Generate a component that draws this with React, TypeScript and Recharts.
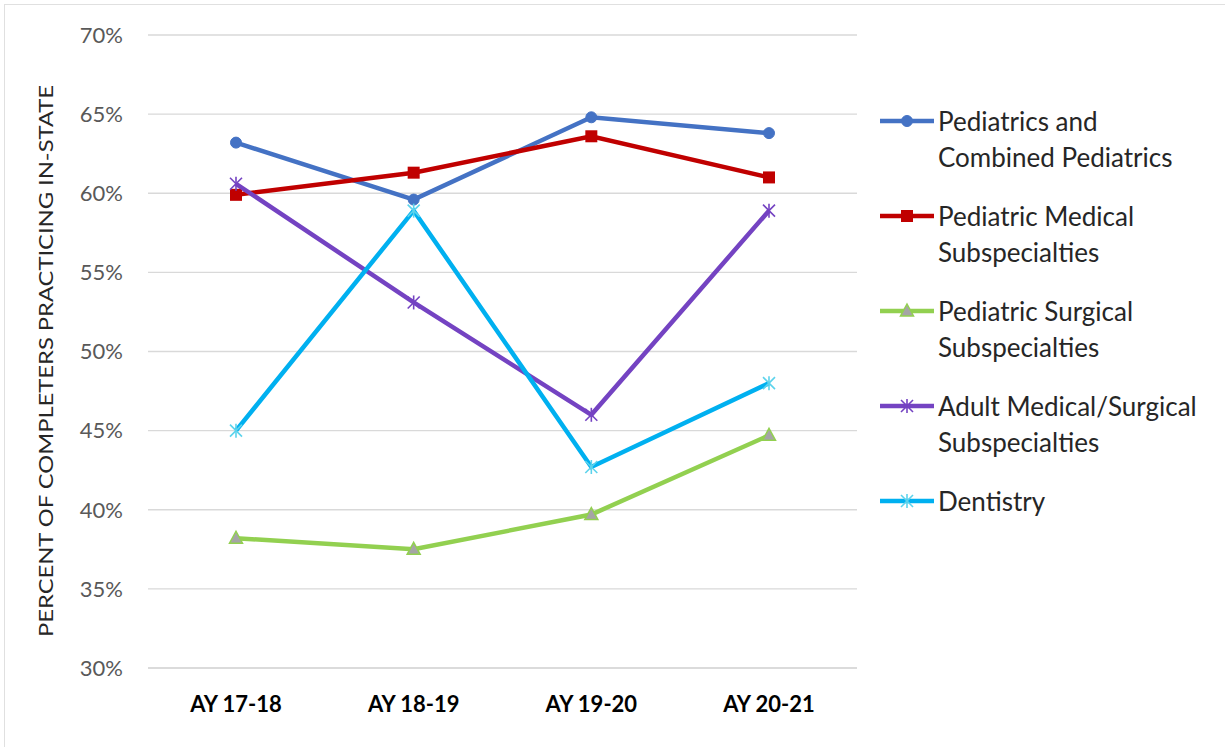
import React from "react";
import { LineChart, Line, XAxis, YAxis, CartesianGrid, Legend } from "recharts";

const years = ["AY 17-18", "AY 18-19", "AY 19-20", "AY 20-21"];
const pediatrics = [63.2, 59.6, 64.8, 63.8];
const pedMedical = [59.9, 61.3, 63.6, 61.0];
const pedSurgical = [38.2, 37.5, 39.7, 44.7];
const adultMedSurg = [60.6, 53.1, 46.0, 58.9];
const dentistry = [45.0, 58.9, 42.7, 48.0];
const yTicks = [30, 35, 40, 45, 50, 55, 60, 65, 70];

const FONT = "Lato, 'Open Sans', sans-serif";
const NARROW = "'Liberation Sans Narrow', Lato, sans-serif";

const seriesList = [
  { key: "ped", name: ["Pediatrics and", "Combined Pediatrics"], color: "#4472C4", marker: "circle", markerColor: "#4472C4" },
  { key: "med", name: ["Pediatric Medical", "Subspecialties"], color: "#C00000", marker: "square", markerColor: "#C00000" },
  { key: "surg", name: ["Pediatric Surgical", "Subspecialties"], color: "#92D050", marker: "triangle", markerColor: "#A5A5A5" },
  { key: "adult", name: ["Adult Medical/Surgical", "Subspecialties"], color: "#7443C2", marker: "star", markerColor: "#7443C2" },
  { key: "dent", name: ["Dentistry"], color: "#00B0F0", marker: "star", markerColor: "#5CD3EC" },
];

const data = years.map((y, i) => ({
  year: y,
  ped: pediatrics[i],
  med: pedMedical[i],
  surg: pedSurgical[i],
  adult: adultMedSurg[i],
  dent: dentistry[i],
}));

const Marker = ({ cx, cy, type, color, stroke }) => {
  if (cx == null || cy == null) return null;
  if (type === "circle") return <circle cx={cx} cy={cy} r={5.5} fill={color} stroke={color} />;
  if (type === "square") return <rect x={cx - 6} y={cy - 6} width={12} height={12} fill={color} />;
  if (type === "triangle")
    return (
      <polygon
        points={`${cx},${cy - 7} ${cx + 6.5},${cy + 5} ${cx - 6.5},${cy + 5}`}
        fill={color}
        stroke={stroke}
        strokeWidth={1.5}
      />
    );
  const r = 6;
  return (
    <g stroke={color} strokeWidth={1.6}>
      <line x1={cx - r} y1={cy - r} x2={cx + r} y2={cy + r} />
      <line x1={cx - r} y1={cy + r} x2={cx + r} y2={cy - r} />
      <line x1={cx} y1={cy - r - 1} x2={cx} y2={cy + r + 1} />
    </g>
  );
};

const makeDot = (s) => (props) => (
  <Marker key={`${s.key}-${props.index}`} cx={props.cx} cy={props.cy} type={s.marker} color={s.markerColor} stroke={s.color} />
);

const LegendContent = () => (
  <div style={{ fontFamily: FONT, fontSize: 26, color: "#262626" }}>
    {seriesList.map((s) => (
      <div key={s.key} style={{ display: "flex", alignItems: "flex-start", height: 95 }}>
        <svg width={58} height={36} style={{ flex: "none" }}>
          <line x1={2} y1={18} x2={56} y2={18} stroke={s.color} strokeWidth={4.5} />
          <Marker cx={29} cy={18} type={s.marker} color={s.markerColor} stroke={s.color} />
        </svg>
        <div style={{ lineHeight: "36px", marginLeft: 2, whiteSpace: "nowrap" }}>
          {s.name.map((n) => (
            <div key={n}>{n}</div>
          ))}
        </div>
      </div>
    ))}
  </div>
);

const YLabel = () => (
  <text
    x={45}
    y={361}
    transform="rotate(-90 45 361)"
    textAnchor="middle"
    dominantBaseline="central"
    fontFamily={NARROW}
    fontSize={20}
    fill="#262626"
    textLength={552}
    lengthAdjust="spacingAndGlyphs"
  >
    PERCENT OF COMPLETERS PRACTICING IN-STATE
  </text>
);

export default function App() {
  return (
    <div style={{ position: "absolute", left: 0, top: 0, width: 1225, height: 747, background: "#fff" }}>
      <div style={{ position: "absolute", left: 4, top: 4, right: 0, height: 1, background: "#e0e0e0" }} />
      <div style={{ position: "absolute", left: 4, top: 4, bottom: 0, width: 1, background: "#e0e0e0" }} />
      <LineChart
        width={1225}
        height={747}
        data={data}
        margin={{ top: 35, right: 368, bottom: 49, left: 0 }}
        style={{ position: "absolute", left: 0, top: 0 }}
      >
        <CartesianGrid vertical={false} stroke="#d9d9d9" strokeWidth={1.3} />
        <XAxis
          dataKey="year"
          height={30}
          padding={{ left: 88, right: 88 }}
          axisLine={{ stroke: "#d9d9d9", strokeWidth: 1.3 }}
          tickLine={false}
          tickMargin={22}
          tick={{ fontFamily: NARROW, fontSize: 22, fontWeight: 700, fill: "#000" }}
        />
        <YAxis
          width={148}
          domain={[30, 70]}
          ticks={yTicks}
          interval={0}
          axisLine={false}
          tickLine={false}
          tickMargin={19}
          tickFormatter={(v) => `${v}%`}
          tick={{ fontFamily: FONT, fontSize: 22, fill: "#595959" }}
          label={<YLabel />}
        />
        <Legend
          layout="vertical"
          align="center"
          verticalAlign="middle"
          wrapperStyle={{ left: 878, top: 103, width: 345 }}
          content={<LegendContent />}
        />
        {seriesList.map((s) => (
          <Line
            key={s.key}
            dataKey={s.key}
            stroke={s.color}
            strokeWidth={4.5}
            dot={makeDot(s)}
            activeDot={false}
            isAnimationActive={false}
          />
        ))}
      </LineChart>
    </div>
  );
}
